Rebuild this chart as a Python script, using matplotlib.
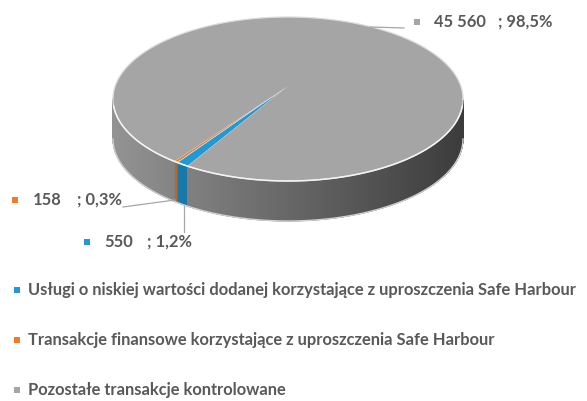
import numpy as np
import matplotlib
matplotlib.use('Agg')
import matplotlib.pyplot as plt
from matplotlib.patches import Polygon, Rectangle
from matplotlib.collections import PolyCollection

# ---------------- data ----------------
categories = [
    "Usługi o niskiej wartości dodanej korzystające z uproszczenia Safe Harbour",
    "Transakcje finansowe korzystające z uproszczenia Safe Harbour",
    "Pozostałe transakcje kontrolowane",
]
values = [550, 158, 45560]
colors = ['#1f9ad6', '#f07c28', '#a5a5a5']

# ---------------- layout ----------------
W, H = 587, 401
fig = plt.figure(figsize=(W / 100, H / 100), dpi=100)
ax = fig.add_axes([0, 0, 1, 1])
ax.set_xlim(0, W)
ax.set_ylim(H, 0)
ax.axis('off')

FONT = ['Lato', 'DejaVu Sans']
TXT = '#595959'
FS = 11.9

cx, cy, a, b, depth = 288, 99, 175, 82, 40
apex = (288, 86)  # perspective-shifted centre point of the top face
start = 235.0  # degrees (math orientation), slices go clockwise

total = float(sum(values))
fracs = np.array(values) / total
bounds = start - 360 * np.concatenate([[0], np.cumsum(fracs)])


def pt(t, dz=0):
    r = np.radians(t)
    return cx + a * np.cos(r), cy - b * np.sin(r) + dz


def shade(hexcol, f):
    c = np.array(matplotlib.colors.to_rgb(hexcol))
    return tuple(np.clip(c * f, 0, 1))

# side walls (front half only)
polys, fcs = [], []
for i, col in enumerate(colors):
    t0, t1 = bounds[i], bounds[i + 1]
    ts = np.linspace(t0, t1, max(3, int(abs(t0 - t1) / 0.25) + 1))
    for u, v in zip(ts[:-1], ts[1:]):
        mid = ((u + v) / 2) % 360
        if 180 <= mid <= 360:
            x0, y0 = pt(u)
            x1, y1 = pt(v)
            polys.append([(x0, y0), (x1, y1), (x1, y1 + depth), (x0, y0 + depth)])
            xm = (x0 + x1) / 2
            f = 0.89 - 0.53 * (xm - (cx - a)) / (2 * a)
            fcs.append(shade(col, f))
pc = PolyCollection(polys, facecolors=fcs, edgecolors=fcs, linewidths=0.6, zorder=1)
ax.add_collection(pc)

# soft bottom rim
tb = np.linspace(180, 360, 200)
bx, by = pt(tb, depth)
ax.plot(bx, by, color='#d0d0d0', lw=1.0, zorder=1.5)

# top faces
for i, col in enumerate(colors):
    t0, t1 = bounds[i], bounds[i + 1]
    ts = np.linspace(t0, t1, max(3, int(abs(t0 - t1) / 0.5) + 1))
    xs, ys = pt(ts)
    verts = [apex] + list(zip(xs, ys))
    ec = 'none' if i == 2 else '#e8e8e8'
    ax.add_patch(Polygon(verts, closed=True, facecolor=col, edgecolor=ec,
                         linewidth=0.4, zorder=2))

# highlight along top rim
tt = np.linspace(0, 360, 400)
hx, hy = pt(tt)
ax.plot(hx, hy, color='#dcdcdc', lw=0.9, zorder=3)
tf = np.linspace(185, 355, 200)
hx, hy = pt(tf)
ax.plot(hx, hy, color='#f4f4f4', lw=1.1, zorder=3)

# ---------------- data labels ----------------
LINE = '#a6a6a6'


def fmt_val(v):
    return f"{v:,}".replace(',', ' ')


def fmt_pct(p):
    return "; " + f"{p * 100:.1f}".replace('.', ',') + "%"

label_pos = [  # (square x, y, value x, pct x)
    (87, 242, 104, 147),
    (15, 200, 33, 77),
    (417, 22, 434, 498),
]
for i, (sx, sy, vx, px) in enumerate(label_pos):
    ax.add_patch(Rectangle((sx - 3, sy - 3), 6, 6, facecolor=colors[i],
                           edgecolor='none', zorder=4))
    ax.text(vx, sy, fmt_val(values[i]), fontsize=FS, fontweight='bold',
            family=FONT, color=TXT, va='center', ha='left')
    ax.text(px, sy, fmt_pct(fracs[i]), fontsize=FS, fontweight='bold',
            family=FONT, color=TXT, va='center', ha='left')

# leader lines
ax.plot([184, 184], [206, 232], color=LINE, lw=0.9, zorder=4)
ax.plot([123, 175], [207, 200], color=LINE, lw=0.9, zorder=4)
ax.plot([370, 404], [27, 28], color=LINE, lw=0.9, zorder=4)

# ---------------- legend ----------------
leg_y = [290, 340, 390]
for i, y in enumerate(leg_y):
    ax.add_patch(Rectangle((14, y - 3), 6, 6, facecolor=colors[i],
                           edgecolor='none'))
    ax.text(28, y, categories[i], fontsize=FS, fontweight='bold',
            family=FONT, color=TXT, va='center', ha='left')

fig.savefig('out.png', dpi=100)
